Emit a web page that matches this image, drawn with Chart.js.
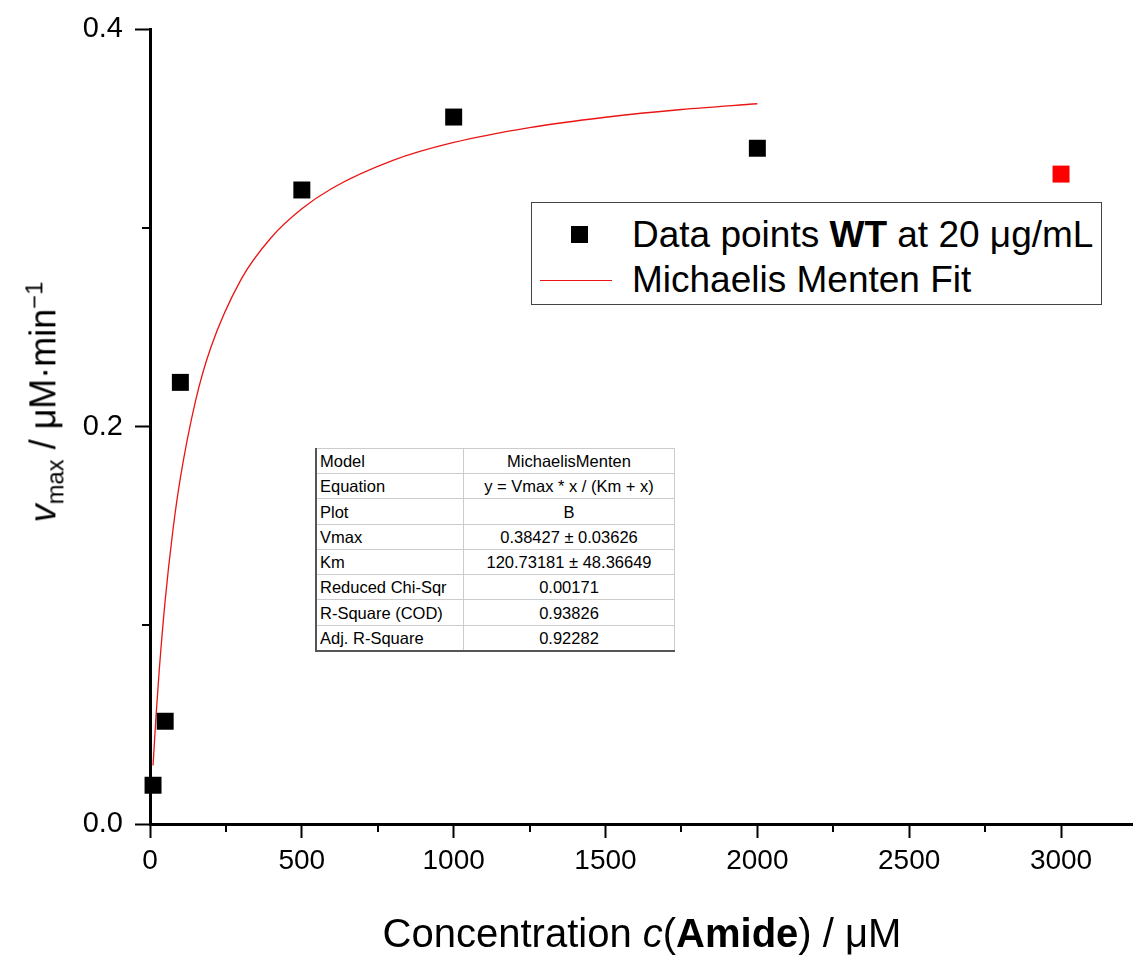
<!DOCTYPE html>
<html>
<head>
<meta charset="utf-8">
<script src="https://cdn.jsdelivr.net/npm/chart.js@4.4.1/dist/chart.umd.min.js"></script>
<style>
  html, body { margin: 0; padding: 0; background: #fff; }
  #wrap { position: relative; width: 1133px; height: 956px; overflow: hidden; font-family: "Liberation Sans", Arial, sans-serif; color: #000; }
  #chart { position: absolute; left: 0; top: 0; }
  .ytitle { position: absolute; left: 45px; top: 402px; font-size: 36px; white-space: nowrap; transform: translate(-50%, -50%) rotate(-90deg); }
  .ytitle sub, .ytitle sup { font-size: 0.66em; }
  .xtitle { position: absolute; left: 642px; top: 933px; font-size: 40px; white-space: nowrap; transform: translate(-50%, -50%); }
  .legend { position: absolute; left: 531px; top: 202px; width: 569px; height: 101px; border: 1px solid #444; background: #fff; font-size: 37px; }
  .legend .row { position: absolute; left: 0; height: 46px; line-height: 46px; white-space: nowrap; }
  .legend .sq { position: absolute; left: 39px; top: 14px; width: 17px; height: 17px; background: #000; }
  .legend .ln { position: absolute; left: 8px; top: 23px; width: 72px; height: 0; border-top: 1.3px solid rgb(235,20,20); }
  .legend .txt { position: absolute; left: 100px; top: 0; }
  table.fit { position: absolute; left: 315px; top: 448px; width: 360px; height: 204px; border-collapse: collapse; font-size: 16.5px; background: #fff; border: 1px solid #555; border-left-width: 2px; border-bottom-width: 2px; }
  table.fit td { border: 1px solid #ccc; padding: 0 3px; height: 24px; line-height: 20px; }
  table.fit td:first-child { width: 140px; text-align: left; }
  table.fit td:last-child { text-align: center; }
</style>
</head>
<body>
<div id="wrap">
  <canvas id="chart" width="1133" height="956"></canvas>
  <div class="ytitle"><i>v</i><sub>max</sub> / μM·min<sup>−1</sup></div>
  <div class="xtitle">Concentration <i>c</i>(<b>Amide</b>) / μM</div>
  <div class="legend">
    <div class="row" style="top:9px;"><span class="sq"></span><span class="txt">Data points <b>WT</b> at 20 μg/mL</span></div>
    <div class="row" style="top:54px;"><span class="ln"></span><span class="txt">Michaelis Menten Fit</span></div>
  </div>
  <table class="fit" id="fitTable"></table>
</div>
<script>
// measured points (black), outlier (red)
const concX = [10, 50, 100, 500, 1000, 2000];
const rateY = [0.0195, 0.0517, 0.2222, 0.319, 0.3557, 0.340];
const outlierX = [3000];
const outlierY = [0.327];

// fitted curve
const fitX = [10, 20, 30, 50, 75, 100, 150, 200, 300, 400, 500, 600, 800, 1000, 1250, 1500, 1750, 2000];
const fitY = [0.0294, 0.0546, 0.0765, 0.1125, 0.1472, 0.1741, 0.2129, 0.2396, 0.2740, 0.2952, 0.3095, 0.3199, 0.3339, 0.3429, 0.3504, 0.3556, 0.3595, 0.3624];

const xMajor = [0, 500, 1000, 1500, 2000, 2500, 3000];
const xMinor = [250, 750, 1250, 1750, 2250, 2750];
const yMajor = [0, 0.2, 0.4];
const yMinor = [0.1, 0.3];

const tableLabels = ['Model', 'Equation', 'Plot', 'Vmax', 'Km', 'Reduced Chi-Sqr', 'R-Square (COD)', 'Adj. R-Square'];
const tableValues = ['MichaelisMenten', 'y = Vmax * x / (Km + x)', 'B', '0.38427 ± 0.03626', '120.73181 ± 48.36649', '0.00171', '0.93826', '0.92282'];

const tbl = document.getElementById('fitTable');
tbl.innerHTML = tableLabels.map((l, i) => `<tr><td>${l}</td><td>${tableValues[i]}</td></tr>`).join('');

const toPts = (xs, ys) => xs.map((x, i) => ({ x, y: ys[i] }));

const minorTicks = {
  id: 'minorTicks',
  afterDraw(chart) {
    const { ctx, scales: { x, y } } = chart;
    ctx.save();
    ctx.strokeStyle = '#000';
    ctx.lineWidth = 2;
    ctx.beginPath();
    xMinor.forEach(v => { const px = Math.round(x.getPixelForValue(v)); ctx.moveTo(px, y.bottom); ctx.lineTo(px, y.bottom + 8); });
    yMinor.forEach(v => { const py = Math.round(y.getPixelForValue(v)); ctx.moveTo(x.left, py); ctx.lineTo(x.left - 8, py); });
    ctx.stroke();
    ctx.restore();
  }
};

const tickFont = { family: '"Liberation Sans", Arial, sans-serif', size: 28 };

new Chart(document.getElementById('chart'), {
  type: 'scatter',
  data: {
    datasets: [
      { label: 'Fit', data: toPts(fitX, fitY), showLine: true, borderColor: 'rgb(235,20,20)', borderWidth: 1.3, pointRadius: 0, cubicInterpolationMode: 'monotone', clip: false, order: 2 },
      { label: 'Data', data: toPts(concX, rateY), pointStyle: 'rect', pointRadius: 12, backgroundColor: '#000', borderColor: '#000', borderWidth: 0, clip: false, order: 1 },
      { label: 'Outlier', data: toPts(outlierX, outlierY), pointStyle: 'rect', pointRadius: 12, backgroundColor: '#ff0000', borderColor: '#ff0000', borderWidth: 0, clip: false, order: 1 }
    ]
  },
  options: {
    responsive: false,
    animation: false,
    layout: { autoPadding: false, padding: { top: 29, right: -13, left: 0, bottom: 0 } },
    plugins: { legend: { display: false }, tooltip: { enabled: false } },
    scales: {
      x: {
        type: 'linear', min: 0, max: 3237,
        border: { display: true, color: '#000', width: 3 },
        grid: { drawOnChartArea: false, drawTicks: true, tickLength: 14, tickWidth: 2, tickColor: '#000' },
        ticks: { color: '#000', font: tickFont, padding: 6, maxRotation: 0, autoSkip: false, callback: v => String(v) },
        afterBuildTicks(s) { s.ticks = xMajor.map(v => ({ value: v })); },
        afterFit(s) { s.height = 132; s.paddingLeft = 0; s.paddingRight = 0; }
      },
      y: {
        type: 'linear', min: 0, max: 0.4,
        border: { display: true, color: '#000', width: 3 },
        grid: { drawOnChartArea: false, drawTicks: true, tickLength: 15, tickWidth: 2, tickColor: '#000' },
        ticks: { color: '#000', font: { ...tickFont, size: 29 }, padding: 12, autoSkip: false, callback: v => Number(v).toFixed(1) },
        afterBuildTicks(s) { s.ticks = yMajor.map(v => ({ value: v })); },
        afterFit(s) { s.width = 150; s.paddingTop = 0; s.paddingBottom = 0; }
      }
    }
  },
  plugins: [minorTicks]
});
</script>
</body>
</html>
